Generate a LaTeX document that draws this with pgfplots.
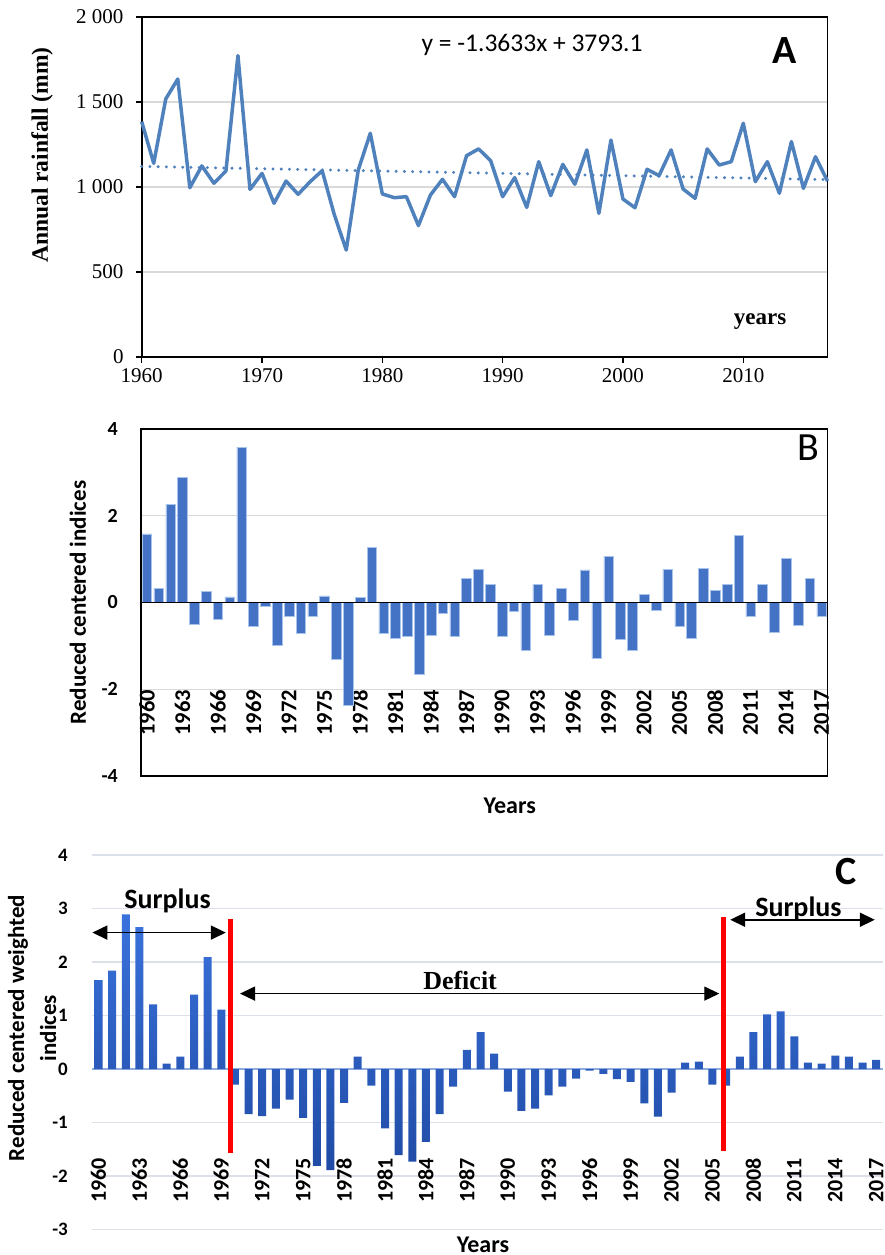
\documentclass[border=0pt]{standalone}
\usepackage{fontspec}
\setmainfont{Carlito}
\newfontfamily\tnr{Liberation Serif}
\usepackage{pgfplots}
\pgfplotsset{compat=1.18}
\usetikzlibrary{arrows.meta}
\definecolor{lineblue}{HTML}{4F81BD}
\definecolor{barblue}{HTML}{4472C4}
\definecolor{baredge}{HTML}{A9C4EB}
\definecolor{barlight}{HTML}{3A72DC}
\definecolor{bardark}{HTML}{1F4BA5}
\definecolor{gridgray}{HTML}{D9D9D9}
\definecolor{gridc}{HTML}{DCE1E9}
\definecolor{zeroc}{HTML}{8FAADC}
\begin{document}
\begin{tikzpicture}
\useasboundingbox (0pt,0pt) rectangle (885pt,1255pt);
% ---------------- A ----------------
\begin{axis}[scale only axis, at={(141.7pt,898pt)}, anchor=south west,
  width=685.8pt, height=340pt, clip=false,
  xmin=1960, xmax=2017, ymin=0, ymax=2000,
  xtick={1960,1970,1980,1990,2000,2010},
  xticklabels={1960,1970,1980,1990,2000,2010},
  ytick={0,500,1000,1500,2000},
  yticklabels={0,500,1~000,1~500,2~000},
  tick align=outside, tick pos=left, major tick length=6pt,
  axis line style={line width=1.6pt},
  tick style={black, line width=1.5pt},
  ymajorgrids, grid style={gridgray, line width=1.2pt},
  ticklabel style={font=\tnr\fontsize{21}{21}\selectfont, inner sep=0pt},
  yticklabel shift=12pt, xticklabel shift=5pt]
\addplot[lineblue, line width=3.5pt, line join=round] table {
x y
1960 1384
1961 1139
1962 1518
1963 1635
1964 996
1965 1124
1966 1022
1967 1094
1968 1773
1969 986
1970 1080
1971 904
1972 1035
1973 957
1974 1031
1975 1096
1976 839
1977 629
1978 1100
1979 1316
1980 959
1981 937
1982 943
1983 773
1984 953
1985 1045
1986 943
1987 1184
1988 1224
1989 1155
1990 943
1991 1055
1992 880
1993 1149
1994 949
1995 1133
1996 1016
1997 1218
1998 845
1999 1276
2000 929
2001 878
2002 1104
2003 1067
2004 1218
2005 988
2006 933
2007 1224
2008 1129
2009 1149
2010 1375
2011 1031
2012 1149
2013 963
2014 1267
2015 992
2016 1178
2017 1035
};
\addplot[lineblue, line width=3.3pt, line cap=round, dash pattern=on 0.01pt off 8.2pt] coordinates {(1960,1121.0) (2017,1043.3)};
\node[anchor=west, font=\fontsize{25.5}{25.5}\selectfont] at (rel axis cs:0.403,0.918) {y = -1.3633x + 3793.1};
\node[font=\bfseries\fontsize{40}{40}\selectfont] at (rel axis cs:0.938,0.9) {A};
\node[font=\tnr\bfseries\fontsize{23}{23}\selectfont] at (rel axis cs:0.9016,0.103) {years};
\node[rotate=90, font=\tnr\bfseries\fontsize{23.5}{23.5}\selectfont] at (rel axis cs:-0.1454,0.594) {Annual rainfall (mm)};
\end{axis}
% ---------------- B ----------------
\begin{axis}[scale only axis, at={(141pt,479pt)}, anchor=south west,
  width=686.6pt, height=347pt, clip=false,
  xmin=-0.5, xmax=57.5, ymin=-4, ymax=4,
  xtick={0,3,...,57},
  xticklabels={1960,1963,1966,1969,1972,1975,1978,1981,1984,1987,1990,1993,1996,1999,2002,2005,2008,2011,2014,2017},
  ytick={-4,-2,0,2,4}, yticklabels={-4,-2,0,2,4},
  major tick length=0pt, axis line style={line width=1.3pt},
  ymajorgrids, grid style={gridgray, line width=1pt},
  xticklabel style={rotate=90, anchor=east, inner sep=0pt, font=\bfseries\fontsize{22.5}{22.5}\selectfont},
  xticklabel shift=-86pt,
  yticklabel style={inner sep=0pt, font=\bfseries\fontsize{20}{20}\selectfont},
  yticklabel shift=23pt]
\addplot[ybar, bar width=9.6pt, fill=barblue, draw=baredge, line width=0.5pt] coordinates {
(0,1.58) (1,0.33) (2,2.26) (3,2.88) (4,-0.50) (5,0.25) (6,-0.39) (7,0.13) (8,3.58) (9,-0.55)
(10,-0.08) (11,-0.98) (12,-0.32) (13,-0.70) (14,-0.32) (15,0.15) (16,-1.32) (17,-2.37) (18,0.12) (19,1.27)
(20,-0.72) (21,-0.82) (22,-0.78) (23,-1.65) (24,-0.75) (25,-0.25) (26,-0.78) (27,0.55) (28,0.77) (29,0.42)
(30,-0.78) (31,-0.20) (32,-1.09) (33,0.41) (34,-0.75) (35,0.32) (36,-0.41) (37,0.75) (38,-1.29) (39,1.07)
(40,-0.84) (41,-1.11) (42,0.18) (43,-0.18) (44,0.76) (45,-0.55) (46,-0.83) (47,0.78) (48,0.28) (49,0.41)
(50,1.55) (51,-0.32) (52,0.41) (53,-0.68) (54,1.02) (55,-0.53) (56,0.55) (57,-0.31)
};
\draw[black, line width=1pt] (axis cs:-0.5,0) -- (axis cs:57.5,0);
\node[font=\fontsize{40}{40}\selectfont] at (rel axis cs:0.9714,0.945) {B};
\node[rotate=90, font=\bfseries\fontsize{23}{23}\selectfont] at (rel axis cs:-0.0918,0.5) {Reduced centered indices};
\node[font=\bfseries\fontsize{24}{24}\selectfont] at (rel axis cs:0.537,-0.086) {Years};
\end{axis}
% ---------------- C ----------------
\begin{axis}[scale only axis, at={(91.7pt,25.4pt)}, anchor=south west,
  width=791.3pt, height=374.6pt, clip=false,
  xmin=-0.5, xmax=57.5, ymin=-3, ymax=4,
  axis line style={draw=none}, major tick length=0pt,
  xtick={0,3,...,57},
  xticklabels={1960,1963,1966,1969,1972,1975,1978,1981,1984,1987,1990,1993,1996,1999,2002,2005,2008,2011,2014,2017},
  ytick={-3,-2,-1,0,1,2,3,4}, yticklabels={-3,-2,-1,0,1,2,3,4},
  ymajorgrids, grid style={gridc, line width=1.5pt},
  xticklabel style={rotate=90, anchor=east, inner sep=0pt, font=\bfseries\fontsize{22}{22}\selectfont},
  xticklabel shift=-71.6pt,
  yticklabel style={inner sep=0pt, font=\bfseries\fontsize{19}{19}\selectfont},
  yticklabel shift=23.7pt]
\draw[zeroc, line width=1.5pt] (axis cs:-0.5,0) -- (axis cs:57.5,0);
\addplot[ybar, bar width=8pt, draw=none, top color=barlight, bottom color=bardark] coordinates {
(0,1.66) (1,1.84) (2,2.89) (3,2.65) (4,1.21) (5,0.10) (6,0.23) (7,1.39) (8,2.09) (9,1.11)
(10,-0.29) (11,-0.84) (12,-0.88) (13,-0.74) (14,-0.57) (15,-0.91) (16,-1.81) (17,-1.89) (18,-0.63) (19,0.23)
(20,-0.31) (21,-1.11) (22,-1.61) (23,-1.73) (24,-1.36) (25,-0.84) (26,-0.33) (27,0.36) (28,0.69) (29,0.29)
(30,-0.42) (31,-0.78) (32,-0.74) (33,-0.49) (34,-0.33) (35,-0.18) (36,-0.03) (37,-0.09) (38,-0.19) (39,-0.24)
(40,-0.64) (41,-0.89) (42,-0.44) (43,0.12) (44,0.14) (45,-0.29) (46,-0.31) (47,0.23) (48,0.69) (49,1.02)
(50,1.08) (51,0.61) (52,0.12) (53,0.10) (54,0.25) (55,0.23) (56,0.12) (57,0.17)
};
\draw[red, line width=5pt] (axis cs:9.66,-1.57) -- (axis cs:9.66,2.81);
\draw[red, line width=5pt] (axis cs:45.83,-1.53) -- (axis cs:45.83,2.85);
\draw[{Triangle[length=15pt,width=14pt]}-{Triangle[length=15pt,width=14pt]}, line width=1.8pt] (axis cs:-0.45,2.55) -- (axis cs:9.33,2.55);
\draw[{Triangle[length=15pt,width=14pt]}-{Triangle[length=15pt,width=14pt]}, line width=1.4pt] (axis cs:10.37,1.41) -- (axis cs:45.5,1.41);
\draw[{Triangle[length=15pt,width=14pt]}-{Triangle[length=15pt,width=14pt]}, line width=1.8pt] (axis cs:46.3,2.79) -- (axis cs:56.9,2.79);
\node[font=\bfseries\fontsize{28}{28}\selectfont] at (axis cs:5.06,3.15) {Surplus};
\node[font=\bfseries\fontsize{28}{28}\selectfont] at (axis cs:51.3,3.0) {Surplus};
\node[font=\tnr\bfseries\fontsize{26}{26}\selectfont] at (axis cs:26.5,1.65) {Deficit};
\node[font=\bfseries\fontsize{40}{40}\selectfont] at (axis cs:54.8,3.69) {C};
\node[rotate=90, align=center, font=\bfseries\fontsize{23}{32}\selectfont] at (rel axis cs:-0.0754,0.538) {Reduced centered weighted\\indices};
\node[font=\bfseries\fontsize{24}{24}\selectfont] at (rel axis cs:0.4945,-0.041) {Years};
\end{axis}
\end{tikzpicture}
\end{document}
